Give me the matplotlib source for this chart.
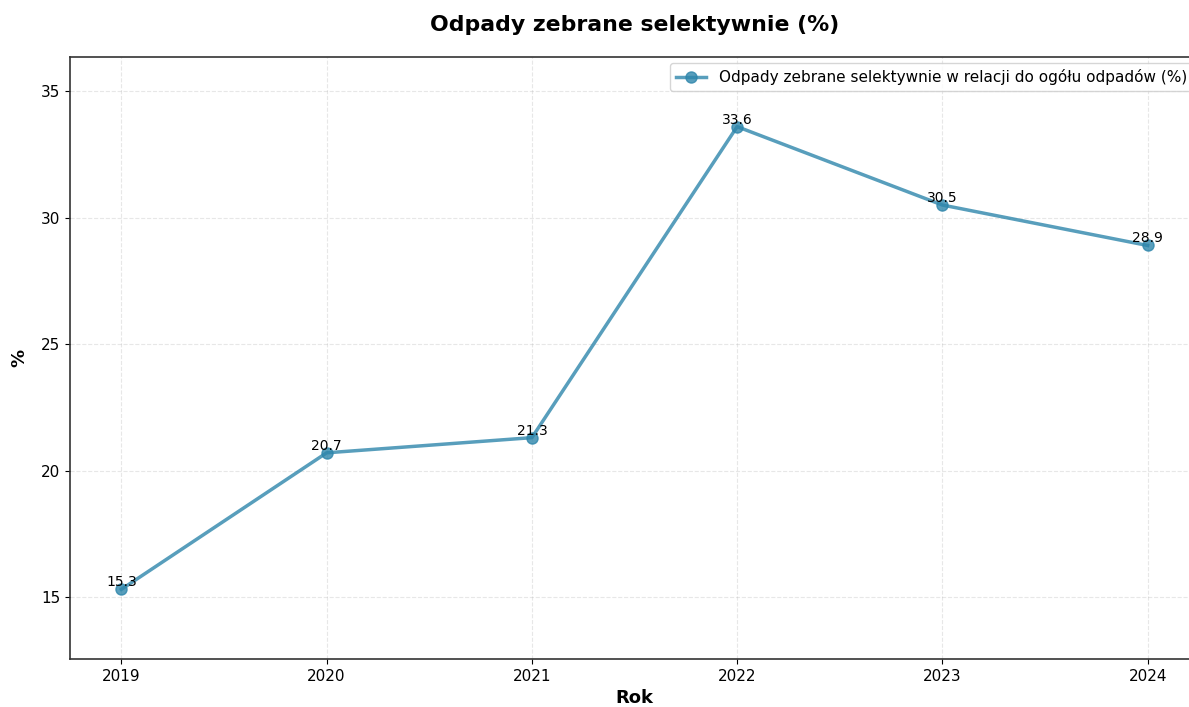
import matplotlib.pyplot as plt

years = [2019, 2020, 2021, 2022, 2023, 2024]
values = [15.3, 20.7, 21.3, 33.6, 30.5, 28.9]
series_label = 'Odpady zebrane selektywnie w relacji do ogółu odpadów (%)'


def plot_chart():
    fig = plt.figure(figsize=(11.89, 7.07), dpi=100)
    ax = fig.add_axes([0.0589, 0.0679, 0.9495, 0.8515])

    ax.plot(years, values, marker='o', color='#2E86AB', alpha=0.8,
            linewidth=2.5, markersize=8, label=series_label)
    for x, y in zip(years, values):
        ax.text(x, y, f'{y}', ha='center', va='bottom', fontsize=10)

    ax.set_xlim(2018.75, 2024.25)
    ax.set_ylim(min(values) * 0.82, max(values) * 1.082)
    ax.set_xticks(years)
    ax.set_yticks([15, 20, 25, 30, 35])
    ax.tick_params(labelsize=11)
    ax.grid(True, linestyle='--', alpha=0.3)
    for s in ax.spines.values():
        s.set_color('#333333')
        s.set_linewidth(1.2)

    ax.set_title('Odpady zebrane selektywnie (%)', fontsize=15.8,
                 fontweight='bold', pad=19)
    ax.set_xlabel('Rok', fontsize=13, fontweight='bold', labelpad=4)
    ax.set_ylabel('%', fontsize=13, fontweight='bold', labelpad=9)
    ax.legend(loc='upper right', fontsize=11, borderaxespad=0.4)

    fig.savefig('out.png', dpi=100)


if __name__ == "__main__":
    plot_chart()
